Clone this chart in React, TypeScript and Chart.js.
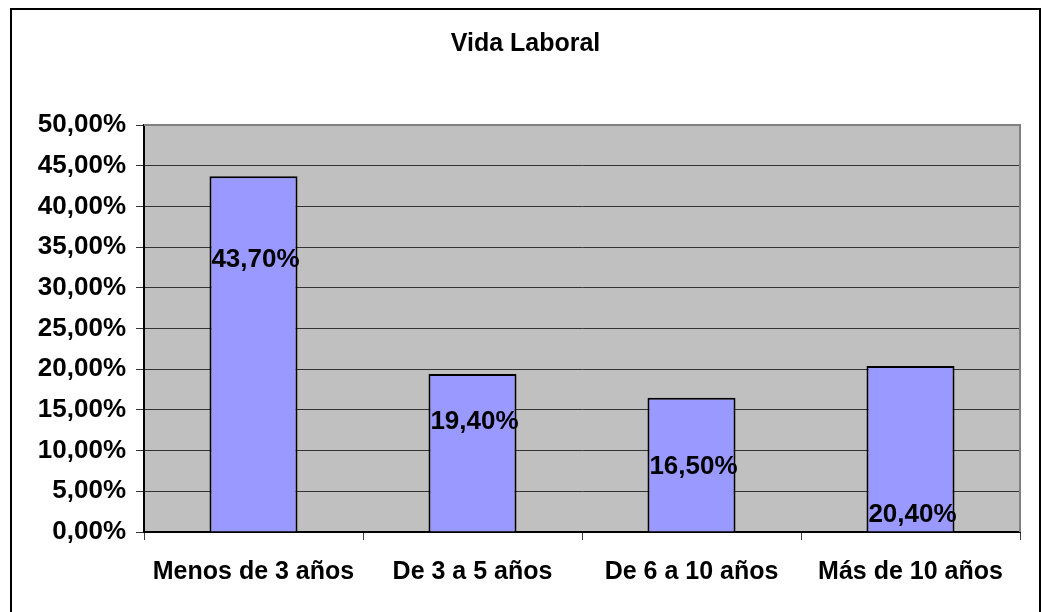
import React, { useEffect, useRef } from "react";
import { Chart, registerables } from "chart.js";

Chart.register(...registerables);

const TITLE = "Vida Laboral";
const categories = ["Menos de 3 años", "De 3 a 5 años", "De 6 a 10 años", "Más de 10 años"];
const values = [43.7, 19.4, 16.5, 20.4];
// vertical anchor of each value label, in axis units (as placed in the original)
const labelAnchors = [33.4, 13.5, 8.0, 2.1];
const yTicksMax = 50;
const yTicksStep = 5;

const FONT = "'Liberation Sans', Arial, sans-serif";

const fmt = (v: number) => v.toFixed(2).replace(".", ",") + "%";

const plotBg = {
  id: "plotBg",
  beforeDraw(chart: any) {
    const { ctx, chartArea } = chart;
    ctx.save();
    ctx.fillStyle = "#C0C0C0";
    ctx.fillRect(chartArea.left, chartArea.top, chartArea.right - chartArea.left, chartArea.bottom - chartArea.top);
    ctx.restore();
  },
  afterDatasetsDraw(chart: any) {
    const { ctx, chartArea } = chart;
    ctx.save();
    ctx.strokeStyle = "#808080";
    ctx.lineWidth = 2;
    ctx.beginPath();
    ctx.moveTo(chartArea.left, chartArea.top);
    ctx.lineTo(chartArea.right, chartArea.top);
    ctx.lineTo(chartArea.right, chartArea.bottom);
    ctx.stroke();
    ctx.restore();
  },
};

const valueLabels = {
  id: "valueLabels",
  afterDatasetsDraw(chart: any) {
    const { ctx } = chart;
    const meta = chart.getDatasetMeta(0);
    const yScale = chart.scales.y;
    ctx.save();
    ctx.font = `bold 26px ${FONT}`;
    ctx.fillStyle = "#000";
    ctx.textAlign = "center";
    ctx.textBaseline = "middle";
    meta.data.forEach((bar: any, i: number) => {
      const y = yScale.getPixelForValue(labelAnchors[i]);
      ctx.fillText(fmt(values[i]), bar.x + 2, y);
    });
    ctx.restore();
  },
};

export default function App() {
  const ref = useRef<HTMLCanvasElement>(null);
  useEffect(() => {
    if (!ref.current) return;
    const chart = new Chart(ref.current, {
      type: "bar",
      data: {
        labels: categories,
        datasets: [
          {
            data: values,
            backgroundColor: "#9999FF",
            borderColor: "#000000",
            borderWidth: 2,
            categoryPercentage: 1,
            barPercentage: 0.402,
          },
        ],
      },
      options: {
        animation: false,
        responsive: false,
        maintainAspectRatio: false,
        layout: { padding: { top: 0, left: 19, right: 19, bottom: 0 } },
        plugins: {
          legend: { display: false },
          tooltip: { enabled: false },
          title: {
            display: true,
            text: TITLE,
            color: "#000",
            font: { family: FONT, size: 25, weight: "bold" },
            padding: { top: 19, bottom: 66 },
          },
        },
        scales: {
          x: {
            grid: {
              offset: true,
              drawOnChartArea: false,
              drawTicks: true,
              tickLength: 8,
              color: "#404040",
              lineWidth: 1,
            },
            border: { display: true, color: "#000", width: 2 },
            ticks: {
              color: "#000",
              font: { family: FONT, size: 25, weight: "bold" },
              padding: 17,
              maxRotation: 0,
              autoSkip: false,
            },
            afterFit(scale: any) {
              scale.height = 94;
            },
          },
          y: {
            min: 0,
            max: yTicksMax,
            grid: {
              color: "#333333",
              lineWidth: 1,
              tickLength: 8,
              drawTicks: true,
            },
            border: { display: true, color: "#000", width: 2 },
            ticks: {
              stepSize: yTicksStep,
              color: "#000",
              font: { family: FONT, size: 26, weight: "bold" },
              padding: 10,
              callback: (v: any) => fmt(Number(v)),
            },
            afterFit(scale: any) {
              scale.width = 113;
            },
          },
        },
      },
      plugins: [plotBg, valueLabels],
    });
    return () => chart.destroy();
  }, []);

  return (
    <div
      style={{
        position: "absolute",
        left: 10,
        top: 8,
        width: 1031,
        height: 620,
        border: "2px solid #000",
        boxSizing: "border-box",
        background: "#fff",
      }}
    >
      <canvas ref={ref} width={1027} height={616} style={{ display: "block" }} />
    </div>
  );
}
